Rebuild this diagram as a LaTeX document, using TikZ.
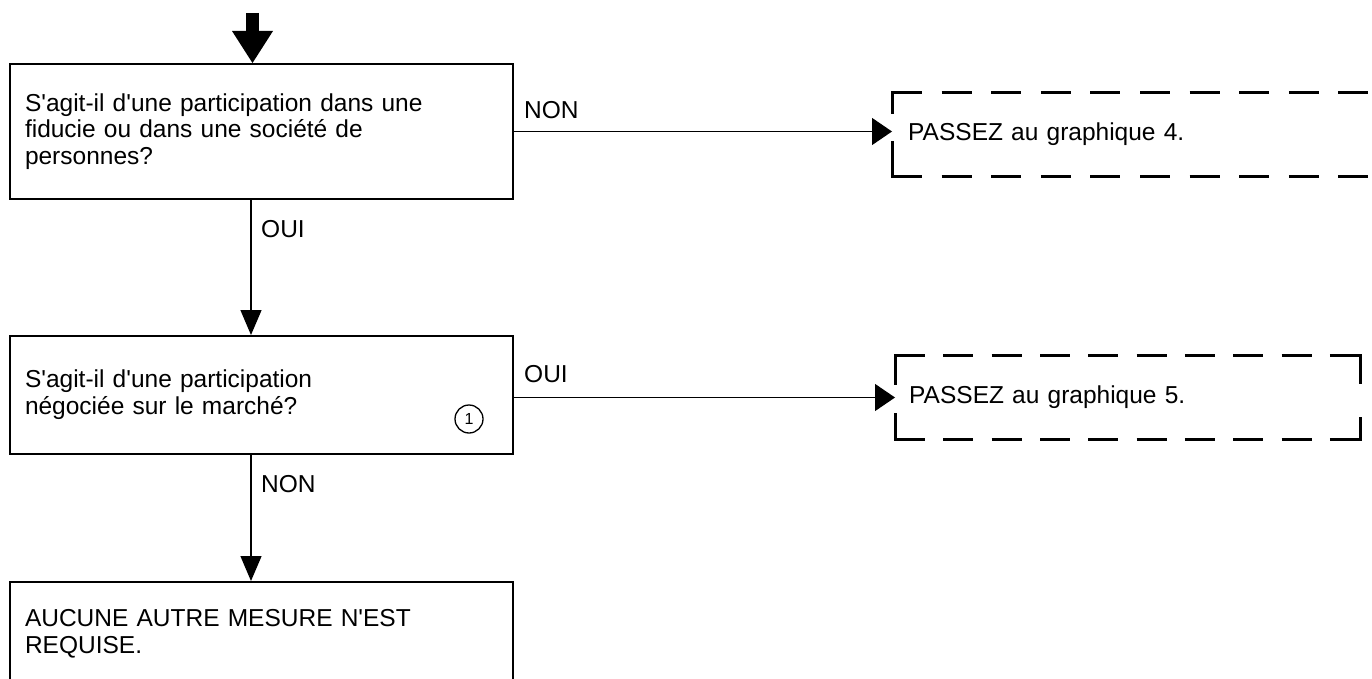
\documentclass[tikz,border=0pt]{standalone}
\usepackage{fontspec}
\setmainfont{Liberation Sans}[Ligatures=TeXOff]
\usetikzlibrary{arrows.meta}
\begin{document}
\begin{tikzpicture}[x=1pt,y=-1pt,
  txt/.style={font=\fontsize{24.5}{26.8}\selectfont},
  box/.style={txt,draw,line width=2pt,rectangle,minimum width=503pt,inner xsep=15pt,text width=473pt,align=left},
  dbox/.style={txt,rectangle,anchor=west,minimum height=83pt,align=left},
  dashline/.style={line width=3pt,dash pattern=on 30pt off 19.6pt},
  dashlineb/.style={line width=3pt,dash pattern=on 30pt off 18.33pt},
  edgeseg/.style={line width=3pt,line cap=rect},
  vconn/.style={line width=1.3pt,-{Triangle[length=25pt,width=21pt]}},
  hconn/.style={line width=1.3pt,-{Triangle[length=20pt,width=27pt]}},
  bigarrow/.style={line width=13pt,-{Triangle[length=32pt,width=41pt,line width=0pt]}},
  lbl/.style={txt,inner sep=0pt,anchor=base west}
]
\useasboundingbox (0,0) rectangle (1372,679);
\clip (0,0) rectangle (1372,679);

% main boxes
\node[box,minimum height=135pt] (box1) at (261.5,131.5)
  {S'agit-il d'une participation dans une\\fiducie ou dans une société de\\personnes?};
\node[box,minimum height=118pt] (box2) at (261.5,395)
  {S'agit-il d'une participation\\négociée sur le marché?};
\node[box,minimum height=104pt] (box3) at (261.5,634)
  {AUCUNE AUTRE MESURE N'EST\\REQUISE.};
\node[circle,draw,line width=1.3pt,minimum size=28pt,inner sep=0pt,
  font=\fontsize{16}{16}\selectfont] (c1) at (469,419) {1};

% dashed target boxes
\node[dbox,inner xsep=16pt,text width=400pt] (d1) at (892,134.5) {PASSEZ au graphique 4.};
\node[dbox,inner xsep=14pt,text width=437pt] (d2) at (895,397.5) {PASSEZ au graphique 5.};

\draw[dashline] (d1.north west) -- ++(490,0);
\draw[dashline] (d1.south west) -- ++(490,0);
\draw[edgeseg] (d1.north west) -- ++(0,20);
\draw[edgeseg] (d1.south west) -- ++(0,-34);

\draw[dashlineb] (d2.north west) -- (d2.north east);
\draw[dashlineb] (d2.south west) -- (d2.south east);
\draw[edgeseg] (d2.north west) -- ++(0,28);
\draw[edgeseg] (d2.south west) -- ++(0,-25);
\draw[edgeseg] (d2.north east) -- ++(0,27);
\draw[edgeseg] (d2.south east) -- ++(0,-21);

% connectors
\coordinate (cx) at (251,0);
\coordinate (start) at (252.5,13);
\draw[bigarrow] (start) -- (start |- box1.north);
\draw[vconn] (box1.south -| cx) -- (box2.north -| cx);
\draw[vconn] (box2.south -| cx) -- (box3.north -| cx);
\draw[hconn] (box1.east) -- (box1.east -| d1.west);
\draw[hconn] (d2.west -| box2.east) -- (d2.west);

% labels
\path (box1.south -| cx) ++(10,37) node[lbl] (l1) {OUI};
\path (box2.south -| cx) ++(10,37) node[lbl] (l2) {NON};
\path (box1.east) ++(10,-12.5) node[lbl] (l3) {NON};
\path (d2.west -| box2.east) ++(10,-15) node[lbl] (l4) {OUI};
\end{tikzpicture}
\end{document}
